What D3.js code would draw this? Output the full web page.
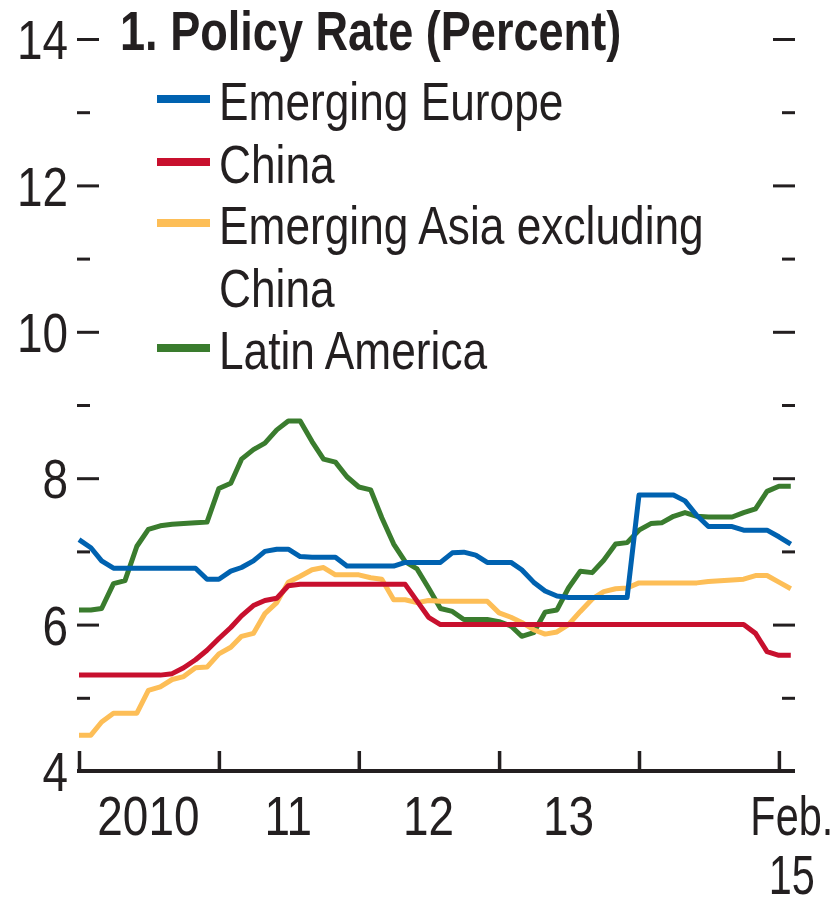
<!DOCTYPE html>
<meta charset="utf-8">
<script src="https://d3js.org/d3.v7.min.js"></script>
<style>
  body { margin: 0; background: #fff; }
  svg text { font-family: "Liberation Sans", Arial, sans-serif; fill: #231f20; }
</style>
<div id="chart"></div>
<script>

// monthly observations, Jan 2010 - Feb 2015
var months = ["2010-01","2010-02","2010-03","2010-04","2010-05","2010-06","2010-07","2010-08","2010-09","2010-10","2010-11","2010-12",
  "2011-01","2011-02","2011-03","2011-04","2011-05","2011-06","2011-07","2011-08","2011-09","2011-10","2011-11","2011-12",
  "2012-01","2012-02","2012-03","2012-04","2012-05","2012-06","2012-07","2012-08","2012-09","2012-10","2012-11","2012-12",
  "2013-01","2013-02","2013-03","2013-04","2013-05","2013-06","2013-07","2013-08","2013-09","2013-10","2013-11","2013-12",
  "2014-01","2014-02","2014-03","2014-04","2014-05","2014-06","2014-07","2014-08","2014-09","2014-10","2014-11","2014-12",
  "2015-01","2015-02"];

var emergingEurope = [7.16,7.05,6.87,6.77,6.77,6.77,6.77,6.77,6.77,6.77,6.77,6.62,
  6.62,6.73,6.78,6.87,7.0,7.03,7.03,6.93,6.92,6.92,6.92,6.8,
  6.8,6.8,6.8,6.8,6.85,6.85,6.85,6.85,6.98,6.99,6.95,6.85,
  6.85,6.85,6.75,6.58,6.46,6.39,6.37,6.37,6.37,6.37,6.37,6.37,
  7.77,7.77,7.77,7.77,7.69,7.49,7.34,7.34,7.34,7.29,7.29,7.29,
  7.2,7.1];

var china = [5.31,5.31,5.31,5.31,5.31,5.31,5.31,5.31,5.33,5.41,5.52,5.65,
  5.81,5.96,6.12,6.26,6.33,6.36,6.53,6.55,6.55,6.55,6.55,6.55,
  6.55,6.55,6.55,6.55,6.55,6.32,6.10,6.0,6.0,6.0,6.0,6.0,
  6.0,6.0,6.0,6.0,6.0,6.0,6.0,6.0,6.0,6.0,6.0,6.0,
  6.0,6.0,6.0,6.0,6.0,6.0,6.0,6.0,6.0,6.0,5.88,5.63,
  5.58,5.58];

var asiaExChina = [4.49,4.49,4.67,4.79,4.79,4.79,5.1,5.15,5.25,5.29,5.41,5.42,
  5.6,5.69,5.84,5.88,6.15,6.3,6.58,6.66,6.75,6.78,6.68,6.68,
  6.68,6.64,6.62,6.34,6.34,6.3,6.33,6.32,6.32,6.32,6.32,6.32,
  6.16,6.1,6.03,5.93,5.87,5.9,6.0,6.18,6.35,6.45,6.49,6.5,
  6.57,6.57,6.57,6.57,6.57,6.57,6.59,6.6,6.61,6.62,6.67,6.67,
  6.58,6.49];

var latinAmerica = [6.2,6.2,6.22,6.56,6.6,7.07,7.3,7.35,7.37,7.38,7.39,7.40,
  7.86,7.93,8.26,8.39,8.48,8.66,8.78,8.78,8.5,8.26,8.22,8.02,
  7.88,7.84,7.46,7.1,6.86,6.76,6.5,6.22,6.18,6.07,6.07,6.07,
  6.04,5.98,5.84,5.89,6.17,6.2,6.5,6.73,6.71,6.88,7.1,7.12,
  7.29,7.38,7.39,7.48,7.53,7.48,7.47,7.47,7.47,7.53,7.58,7.82,
  7.89,7.89];

var seriesNames = ["Emerging Europe", "China", "Emerging Asia excluding China", "Latin America"];
var seriesColors = ["#0062b0", "#c8102e", "#fdbe57", "#3a7c2e"];
var yTicks = [4, 5, 6, 7, 8, 9, 10, 11, 12, 13, 14];
var yearTicks = ["2010-01", "2011-01", "2012-01", "2013-01", "2014-01", "2015-01"];
var yearLabels = [["2010"], ["11"], ["12"], ["13"], ["Feb.", "15"]];
var yearLabelAt = ["2010-07", "2011-07", "2012-07", "2013-07", "2015-02"];

var width = 833, height = 900;
var parse = d3.timeParse("%Y-%m");
var narrow = 0.82; // squeeze Liberation Sans to look like a narrow face

var svg = d3.select("#chart").append("svg")
  .attr("width", width)
  .attr("height", height);

function place(px, py, sx) {
  return "translate(" + px + "," + py + ") scale(" + (sx || narrow) + ",1)";
}

var x = d3.scaleTime()
  .domain([parse("2010-01"), new Date(2015, 1, 12)])
  .range([79, 795]);

var y = d3.scaleLinear()
  .domain([4, 14])
  .range([771, 39]);

// left ticks (majors on even numbers), no axis line
var left = svg.append("g")
  .attr("transform", "translate(99,0)")
  .call(d3.axisLeft(y).tickValues(yTicks.filter(function(d) { return d > 4; }))
    .tickSize(0).tickFormat(""));
left.select(".domain").remove();
left.selectAll(".tick").append("line")
  .attr("x1", function(d) { return d % 2 ? -9 : 0; })
  .attr("x2", -22)
  .attr("stroke", "#231f20")
  .attr("stroke-width", 3);

// y labels
svg.append("g").selectAll("text")
  .data(yTicks.filter(function(d) { return d % 2 === 0; }))
  .enter().append("text")
    .attr("transform", function(d) { return place(68, y(d)); })
    .attr("dy", "0.36em")
    .attr("text-anchor", "end")
    .style("font-size", "56px")
    .text(function(d) { return d; });

// right ticks
var right = svg.append("g")
  .attr("transform", "translate(795,0)")
  .call(d3.axisLeft(y).tickValues(yTicks.filter(function(d) { return d > 4; }))
    .tickSize(0).tickFormat(""));
right.select(".domain").remove();
right.selectAll(".tick").append("line")
  .attr("x1", 0)
  .attr("x2", function(d) { return d % 2 ? -13 : -22; })
  .attr("stroke", "#231f20")
  .attr("stroke-width", 3);

// bottom axis
var bottom = svg.append("g")
  .attr("transform", "translate(0,771)")
  .call(d3.axisBottom(x).tickValues(yearTicks.map(parse)).tickSize(0).tickFormat(""));
bottom.select(".domain")
  .attr("stroke", "#231f20")
  .attr("stroke-width", 4)
  .attr("d", "M77,0H795");
bottom.selectAll(".tick").append("line")
  .attr("y1", 0)
  .attr("y2", -20)
  .attr("stroke", "#231f20")
  .attr("stroke-width", 3.5);

// x labels
svg.append("g").selectAll("text")
  .data(yearLabels)
  .enter().append("text")
    .attr("text-anchor", "middle")
    .style("font-size", "56px")
    .attr("transform", function(d, i) {
      return place(x(parse(yearLabelAt[i])) + (d.length > 1 ? 1 : 0), 835, d.length > 1 ? 0.74 : narrow);
    })
  .selectAll("tspan")
  .data(function(d) { return d; })
  .enter().append("tspan")
    .attr("x", 0)
    .attr("dy", function(d, i) { return i ? 59 : 0; })
    .text(function(d) { return d; });

// lines
var allSeries = [emergingEurope, china, asiaExChina, latinAmerica];
var line = d3.line()
  .x(function(d, i) { return x(parse(months[i])); })
  .y(function(d) { return y(d); });

[3, 2, 1, 0].forEach(function(k) {
  svg.append("path")
    .datum(allSeries[k])
    .attr("fill", "none")
    .attr("stroke", seriesColors[k])
    .attr("stroke-width", 5)
    .attr("stroke-linejoin", "round")
    .attr("d", line);
});

// title
svg.append("text")
  .attr("transform", place(120, 50))
  .style("font-size", "55px")
  .style("font-weight", "bold")
  .text("1. Policy Rate (Percent)");

// legend
var legendLines = [["Emerging Europe"], ["China"], ["Emerging Asia excluding", "China"], ["Latin America"]];
var rowBase = [120, 183, 244, 369];
var legend = svg.append("g").selectAll("g")
  .data(seriesNames)
  .enter().append("g")
    .attr("transform", function(d, i) { return "translate(157," + rowBase[i] + ")"; });
legend.append("rect")
  .attr("y", -25)
  .attr("width", 53)
  .attr("height", 8)
  .attr("fill", function(d, i) { return seriesColors[i]; });
legend.append("text")
  .attr("transform", place(62, 0))
  .style("font-size", "54px")
  .selectAll("tspan")
  .data(function(d, i) { return legendLines[i]; })
  .enter().append("tspan")
    .attr("x", 0)
    .attr("dy", function(d, i) { return i ? 63 : 0; })
    .text(function(d) { return d; });

</script>
